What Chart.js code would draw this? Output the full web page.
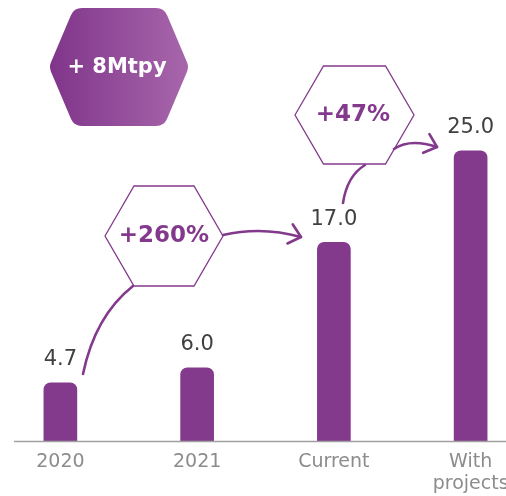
<!DOCTYPE html>
<html>
<head>
<meta charset="utf-8">
<script src="https://cdn.jsdelivr.net/npm/chart.js@4"></script>
<style>
  html, body { margin: 0; padding: 0; background: #fff; }
  #wrap { position: relative; width: 506px; height: 496px; overflow: hidden; }
  #chart { position: absolute; left: -8px; top: 0; }
</style>
</head>
<body>
<div id="wrap"><canvas id="chart" width="556" height="496"></canvas></div>
<script>
const categories = ['2020', '2021', 'Current', ['With', 'projects']];
const capacity = [4.7, 6.0, 17.0, 25.0];
const growthLabels = ['+260%', '+47%'];
const headline = '+ 8Mtpy';

const purple = '#843a8c';
const fontFamily = '"DejaVu Sans", Verdana, sans-serif';
const shift = 8; // canvas sits 8px left of the page

function hexPath(ctx, cx, cy, hw, tw, hh, r) {
  const pts = [
    [cx - hw, cy], [cx - tw, cy - hh], [cx + tw, cy - hh],
    [cx + hw, cy], [cx + tw, cy + hh], [cx - tw, cy + hh]
  ];
  ctx.beginPath();
  if (!r) {
    ctx.moveTo(pts[0][0], pts[0][1]);
    for (let i = 1; i < pts.length; i++) ctx.lineTo(pts[i][0], pts[i][1]);
    ctx.closePath();
    return;
  }
  const mid = (a, b) => [(a[0] + b[0]) / 2, (a[1] + b[1]) / 2];
  const start = mid(pts[5], pts[0]);
  ctx.moveTo(start[0], start[1]);
  for (let i = 0; i < pts.length; i++) {
    const p = pts[i], n = pts[(i + 1) % pts.length];
    ctx.arcTo(p[0], p[1], n[0], n[1], r);
  }
  ctx.closePath();
}

function curveArrow(ctx, x0, y0, cx, cy, x1, y1, head) {
  ctx.beginPath();
  ctx.moveTo(x0, y0);
  ctx.quadraticCurveTo(cx, cy, x1, y1);
  ctx.stroke();
  if (head) {
    const ang = Math.atan2(y1 - cy, x1 - cx);
    const len = 15, spread = 0.72;
    ctx.beginPath();
    ctx.moveTo(x1 - len * Math.cos(ang - spread), y1 - len * Math.sin(ang - spread));
    ctx.lineTo(x1, y1);
    ctx.lineTo(x1 - len * Math.cos(ang + spread), y1 - len * Math.sin(ang + spread));
    ctx.stroke();
  }
}

const valueLabels = {
  id: 'valueLabels',
  afterDatasetsDraw(chart) {
    const ctx = chart.ctx;
    const meta = chart.getDatasetMeta(0);
    ctx.save();
    ctx.font = '21px ' + fontFamily;
    ctx.fillStyle = '#404040';
    ctx.textAlign = 'center';
    ctx.textBaseline = 'middle';
    meta.data.forEach((bar, i) => {
      ctx.fillText(capacity[i].toFixed(1), bar.x, bar.y - 23);
    });
    ctx.restore();
  }
};

const decorations = {
  id: 'decorations',
  afterDraw(chart) {
    const ctx = chart.ctx;
    const area = chart.chartArea;
    ctx.save();
    // baseline
    ctx.strokeStyle = '#a0a0a0';
    ctx.lineWidth = 1.5;
    ctx.beginPath();
    ctx.moveTo(14 + shift, area.bottom + 0.5);
    ctx.lineTo(area.right, area.bottom + 0.5);
    ctx.stroke();

    ctx.translate(shift, 0);

    // filled headline hexagon
    const grad = ctx.createLinearGradient(51, 0, 187, 0);
    grad.addColorStop(0, '#80358a');
    grad.addColorStop(1, '#a766ab');
    ctx.fillStyle = grad;
    hexPath(ctx, 119, 67, 70, 45, 59, 12);
    ctx.fill();
    ctx.fillStyle = '#ffffff';
    ctx.font = 'bold 21px ' + fontFamily;
    ctx.textAlign = 'center';
    ctx.textBaseline = 'middle';
    ctx.fillText(headline, 117, 68);

    // outline hexagons
    ctx.strokeStyle = purple;
    ctx.lineWidth = 1.3;
    hexPath(ctx, 164, 236, 59, 30, 50, 0);
    ctx.stroke();
    hexPath(ctx, 354.5, 115, 59.5, 31, 49, 0);
    ctx.stroke();

    ctx.fillStyle = purple;
    ctx.font = 'bold 23px ' + fontFamily;
    ctx.fillText(growthLabels[0], 164, 236);
    ctx.fillText(growthLabels[1], 353, 115);

    // connectors and arrows
    ctx.lineWidth = 2.6;
    ctx.lineCap = 'round';
    ctx.lineJoin = 'round';
    curveArrow(ctx, 83, 374, 95, 316, 133, 286, false);
    curveArrow(ctx, 223, 235, 262, 226, 301, 237, true);
    curveArrow(ctx, 343, 203, 347, 176, 365, 165, false);
    curveArrow(ctx, 394, 149, 410, 138, 437, 147, true);
    ctx.restore();
  }
};

new Chart(document.getElementById('chart'), {
  type: 'bar',
  data: {
    labels: categories,
    datasets: [{
      data: capacity,
      backgroundColor: purple,
      base: -0.4,
      barThickness: 33,
      borderRadius: { topLeft: 7, topRight: 7, bottomLeft: 0, bottomRight: 0 },
      borderSkipped: false
    }]
  },
  options: {
    responsive: false,
    animation: false,
    layout: { padding: { left: 0, right: 9, top: 0, bottom: 0 } },
    plugins: {
      legend: { display: false },
      tooltip: { enabled: false }
    },
    scales: {
      x: {
        grid: { display: false, drawTicks: false },
        border: { display: false },
        afterFit(scale) { scale.height = 55; },
        ticks: {
          color: '#8c8c8c',
          padding: 10,
          maxRotation: 0,
          autoSkip: false,
          font: { family: fontFamily, size: 19, lineHeight: 1.15 }
        }
      },
      y: {
        display: false,
        min: -0.4,
        max: 38.2
      }
    }
  },
  plugins: [valueLabels, decorations]
});
</script>
</body>
</html>
